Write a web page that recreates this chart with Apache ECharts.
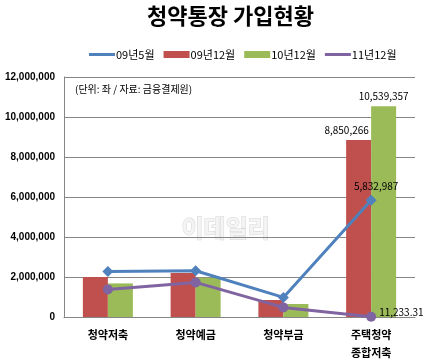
<!DOCTYPE html>
<html><head><meta charset="utf-8">
<script src="https://cdn.jsdelivr.net/npm/echarts@6/dist/echarts.min.js"></script>
<style>html,body{margin:0;padding:0;background:#fff}#c{width:426px;height:361px}</style>
</head><body><div id="c"></div>
<script>
const categories = ['청약저축','청약예금','청약부금','주택청약\n종합저축'];
const s0905 = [2280000, 2310000, 980000, 5832987];
const s0912 = [2000000, 2200000, 850000, 8850266];
const s1012 = [1680000, 1960000, 650000, 10539357];
const s1112 = [1380000, 1730000, 480000, 11233.31];
const yTicks = [0, 2000000, 4000000, 6000000, 8000000, 10000000, 12000000];
const FONT = '"Noto Sans CJK KR", sans-serif';
const fmt = v => Number(v).toLocaleString('en-US');
const lastOnly = (arr, opts) => arr.map((v,i)=> i===arr.length-1 ? {value:v, label:Object.assign({show:true}, opts)} : v);

const chart = echarts.init(document.getElementById('c'));
chart.setOption({
  animation:false,
  textStyle:{fontFamily:FONT},
  title:{text:'청약통장 가입현황', left:142, top:0,
    textStyle:{fontSize:22, fontWeight:'bold', color:'#000', fontFamily:FONT}},
  legend:{top:44, left:84, itemGap:9, itemWidth:26, itemHeight:7, icon:'rect',
    textStyle:{fontSize:11, color:'#000', fontFamily:FONT, padding:[0,0,0,-4]},
    data:[
      {name:'09년5월', icon:'path://M0,4 L26,4 L26,7 L0,7 Z'},
      {name:'09년12월'},
      {name:'10년12월'},
      {name:'11년12월', icon:'path://M0,4 L26,4 L26,7 L0,7 Z'}
    ]},
  grid:{left:64, right:11, top:77, bottom:44, containLabel:false, outerBoundsMode:'none'},
  xAxis:{type:'category', data:categories,
    axisLine:{lineStyle:{color:'#868686'}}, axisTick:{show:false},
    axisLabel:{fontSize:11, fontWeight:'bold', color:'#000', margin:9, lineHeight:18, fontFamily:FONT}},
  yAxis:{type:'value', min:yTicks[0], max:yTicks[yTicks.length-1], interval:yTicks[1]-yTicks[0],
    axisLine:{show:true, lineStyle:{color:'#868686'}}, axisTick:{show:false},
    splitLine:{lineStyle:{color:'#868686'}},
    axisLabel:{fontSize:10, fontWeight:'bold', color:'#000', margin:9, fontFamily:'"Liberation Sans", Arial, sans-serif',
      formatter:v=>fmt(v)}},
  graphic:[
    {type:'text', left:75, top:84, style:{text:'(단위: 좌 / 자료: 금융결제원)', fontSize:10, fill:'#000', fontFamily:FONT}},
    {type:'text', left:181, top:215, z:0, style:{text:'이데일리', fontSize:24, fontWeight:'bold', fill:'#f4f4f4', stroke:'#d4d4d4', lineWidth:1, fontFamily:FONT}}
  ],
  series:[
    {name:'09년12월', type:'bar', barWidth:25, barGap:'0%', itemStyle:{color:'#C0504D'},
      data:lastOnly(s0912,{position:'top', offset:[-12,0], fontSize:10, color:'#000', formatter:p=>fmt(p.value)})},
    {name:'10년12월', type:'bar', barWidth:25, barGap:'0%', itemStyle:{color:'#9BBB59'},
      data:lastOnly(s1012,{position:'top', fontSize:10, color:'#000', formatter:p=>fmt(p.value)})},
    {name:'09년5월', type:'line', symbol:'diamond', symbolSize:11, lineStyle:{width:3, color:'#4F81BD'},
      itemStyle:{color:'#4F81BD'}, z:5,
      data:lastOnly(s0905,{position:'top', offset:[5,1], fontSize:10, color:'#000', formatter:p=>fmt(p.value)})},
    {name:'11년12월', type:'line', symbol:'circle', symbolSize:10, lineStyle:{width:3, color:'#8064A2'},
      itemStyle:{color:'#8064A2'}, z:5,
      data:lastOnly(s1112,{position:'right', offset:[-2,-5], fontSize:10, color:'#000', formatter:p=>fmt(p.value)})}
  ]
});
</script></body></html>
